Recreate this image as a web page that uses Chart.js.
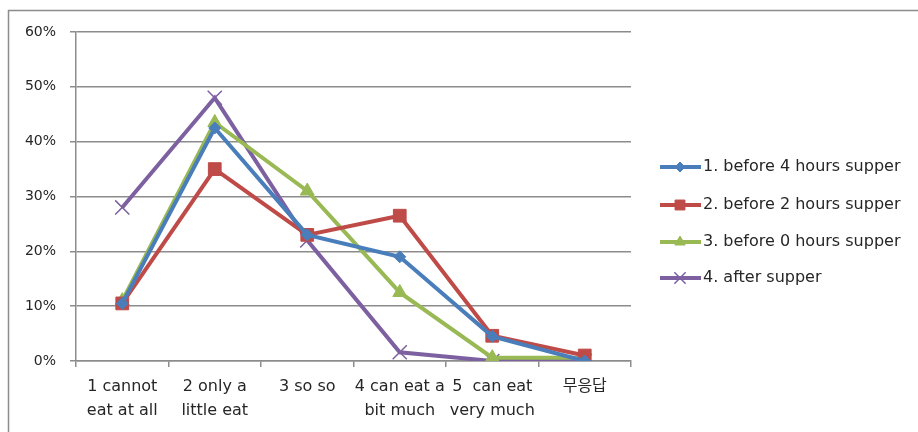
<!DOCTYPE html>
<html>
<head>
<meta charset="utf-8">
<script src="https://cdn.jsdelivr.net/npm/chart.js@4"></script>
<style>
html,body{margin:0;padding:0;background:#fff;}
#wrap{position:relative;width:918px;height:432px;}
</style>
</head>
<body>
<div id="wrap"><canvas id="c" width="918" height="432"></canvas></div>
<script>
const categories = [["1 cannot","eat at all"],["2 only a","little eat"],["3 so so"],["4 can eat a","bit much"],["5  can eat","very much"],["무응답"]];
const seriesNames = ["1. before 4 hours supper","2. before 2 hours supper","3. before 0 hours supper","4. after supper"];
const before4 = [10.5, 42.5, 23, 19, 4.5, 0];
const before2 = [10.5, 35, 23, 26.5, 4.6, 1];
const before0 = [11, 43.5, 31, 12.5, 0.6, 0.6];
const afterSupper = [28, 48, 22, 1.6, 0, 0];
const yTicks = [0, 10, 20, 30, 40, 50, 60];

const colors = ['#4A7EBB', '#BE4B48', '#98B954', '#7D60A0'];
const styles = ['rectRot', 'rect', 'triangle', 'crossRot'];
const radii = [6, 9, 8, 10];
const legendRadii = [5, 7, 6, 8];
const FONT = "'DejaVu Sans', 'Noto Sans CJK KR', sans-serif";

function ds(label, data, i) {
  return {
    label, data,
    borderColor: colors[i], backgroundColor: colors[i],
    borderWidth: 4, pointStyle: styles[i], pointRadius: radii[i],
    pointBorderWidth: i === 3 ? 1.5 : 1, pointBorderColor: colors[i],
    tension: 0
  };
}

const legendPlugin = {
  id: 'customLegend',
  afterDraw(chart) {
    const ctx = chart.ctx;
    ctx.save();
    ctx.strokeStyle = '#8c8c8c';
    ctx.lineWidth = 1.5;
    ctx.beginPath();
    ctx.moveTo(8.5, 440); ctx.lineTo(8.5, 10.5); ctx.lineTo(918, 10.5);
    ctx.stroke();
    const ys = [167, 205, 242, 278];
    chart.data.datasets.forEach((d, i) => {
      const y = ys[i];
      ctx.strokeStyle = colors[i];
      ctx.lineWidth = 4;
      ctx.beginPath(); ctx.moveTo(660, y); ctx.lineTo(701, y); ctx.stroke();
      ctx.fillStyle = colors[i];
      ctx.strokeStyle = colors[i];
      ctx.lineWidth = i === 3 ? 1.5 : 1;
      Chart.helpers.drawPoint(ctx, {pointStyle: styles[i], radius: legendRadii[i], rotation: 0, borderWidth: i === 3 ? 1.5 : 1}, 680, y);
      ctx.fillStyle = '#262626';
      ctx.font = '16px ' + FONT;
      ctx.textBaseline = 'middle';
      ctx.textAlign = 'left';
      ctx.fillText(d.label, 703, y);
    });
    ctx.restore();
  }
};

new Chart(document.getElementById('c'), {
  type: 'line',
  data: {
    labels: categories,
    datasets: [
      ds(seriesNames[0], before4, 0),
      ds(seriesNames[1], before2, 1),
      ds(seriesNames[2], before0, 2),
      ds(seriesNames[3], afterSupper, 3)
    ]
  },
  options: {
    responsive: false,
    animation: false,
    layout: { padding: { left: 0, top: 32, right: 287, bottom: 0 } },
    plugins: { legend: { display: false }, tooltip: { enabled: false } },
    scales: {
      x: {
        offset: true,
        afterFit(s) { s.height = 71; },
        grid: { offset: true, drawOnChartArea: false, drawTicks: true, tickLength: 6, color: '#8c8c8c', lineWidth: 1.5 },
        border: { color: '#8c8c8c', width: 1.5 },
        ticks: { color: '#262626', font: { family: FONT, size: 16, lineHeight: 1.5 }, padding: 8, maxRotation: 0, autoSkip: false }
      },
      y: {
        min: 0, max: 60,
        afterFit(s) { s.width = 76; },
        afterBuildTicks(s) { s.ticks = yTicks.map(v => ({ value: v })); },
        grid: { color: '#8c8c8c', lineWidth: 1.5, tickLength: 6 },
        border: { color: '#8c8c8c', width: 1.5 },
        ticks: { color: '#262626', font: { family: FONT, size: 14 }, padding: 14, callback: v => v + '%' }
      }
    }
  },
  plugins: [legendPlugin]
});
</script>
</body>
</html>
